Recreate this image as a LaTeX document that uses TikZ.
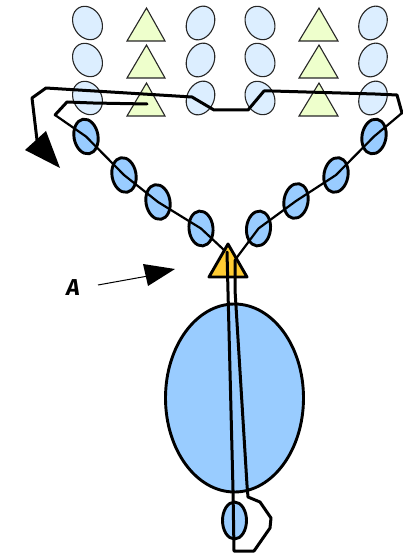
\documentclass[tikz,border=0pt]{standalone}
\usepackage{fontspec}
\setsansfont{Fira Sans}
\usetikzlibrary{shapes.geometric}
\definecolor{pale}{HTML}{DCEEFF}
\definecolor{lime}{HTML}{EEFFCC}
\definecolor{bead}{HTML}{99CCFF}
\definecolor{gold}{HTML}{FFCC33}
\tikzset{
  paleoval/.style={ellipse,draw=black!85,line width=1.1pt,fill=pale,inner sep=0pt,minimum width=28pt,minimum height=35pt},
  paleovalr/.style={ellipse,draw=black!85,line width=1.1pt,fill=pale,inner sep=0pt,minimum width=27pt,minimum height=35pt},
  limetri/.style={draw=black!85,line width=1.1pt,fill=lime,line join=miter},
  beadoval/.style={ellipse,draw=black,line width=2.9pt,fill=bead,inner sep=0pt,minimum width=24pt,minimum height=35pt},
  rope/.style={draw=black,line width=3pt,line join=round,line cap=round},
  thinrope/.style={draw=black,line width=2.2pt,line join=round,line cap=round},
}
\begin{document}
\begin{tikzpicture}[x=1pt,y=-1pt]
\useasboundingbox (0,0) rectangle (402,553);
% pale ovals
\foreach \y/\r in {23/a,60/b,98/c}{
  \node[paleoval,rotate=30] (p1\r) at (87.5,\y) {};
  \node[paleovalr,rotate=-25] (p2\r) at (200.5,\y) {};
  \node[paleoval,rotate=30] (p3\r) at (260,\y) {};
  \node[paleovalr,rotate=-25] (p4\r) at (373,\y) {};
}
% triangles
\foreach \y in {8,45,83}{
  \draw[limetri] (146.5,\y) -- (165,\y+33) -- (127,\y+33) -- cycle;
  \draw[limetri] (319,\y) -- (338,\y+33) -- (299,\y+33) -- cycle;
}
% beads
\node[beadoval,rotate=10] (b1) at (86,136.5) {};
\node[beadoval,rotate=10] (b2) at (124,175) {};
\node[beadoval,rotate=10] (b3) at (158,202) {};
\node[beadoval,rotate=6] (b4) at (201,228.5) {};
\node[beadoval,rotate=-6] (b5) at (258.5,228.5) {};
\node[beadoval,rotate=-10] (b6) at (296,201) {};
\node[beadoval,rotate=-10] (b7) at (336,175) {};
\node[beadoval,rotate=-10] (b8) at (374,136.5) {};
% main bodies
\node[ellipse,draw=black,line width=2.9pt,fill=bead,inner sep=0pt,minimum width=138pt,minimum height=188pt] (big) at (234.5,398) {};
\node[ellipse,draw=black,line width=2.9pt,fill=bead,inner sep=0pt,minimum width=24pt,minimum height=37pt] (small) at (234.5,520.5) {};
\draw[draw=black,line width=2.9pt,fill=gold,line join=round] (228,244) -- (247,277) -- (209,277) -- cycle;
% rope ends
\coordinate (startL) at (147,104);
\coordinate (neckL) at (55,115);
\coordinate (apexL) at (224,250);
\coordinate (innerR) at (235,260);
\coordinate (shoulderR) at (402,113);
\coordinate (loopTop) at (37,140);
% strands
\draw[rope] (startL) -- (93,103) -- (67,102) -- (neckL);
\draw[thinrope] (neckL) -- (b1.center) -- (b2.center) -- (b3.center) -- (b4.center) -- (apexL);
\draw[thinrope] (innerR) -- (b5.center) -- (b6.center) -- (b7.center) -- (b8.center) -- (shoulderR);
\draw[rope] (227,252) -- (233,490) -- (234,551) -- (254,551) -- (270,528) -- (271,518) -- (260,502) -- (248,497) -- (247,485) -- (235,290) -- (innerR);
\draw[rope] (shoulderR) -- (397,95) -- (375,94) -- (272,91) -- (264,91) -- (248,110) -- (214,110) -- (192,97) -- (62,89) -- (46,88) -- (32,98) -- (loopTop);
% arrowheads
\fill[black] (25,150) -- (46,131) -- (60,168) -- cycle;
\node[font=\sffamily\itshape\bfseries,inner sep=0pt] (labA) at (73,288) {\fontsize{23}{23}\selectfont A};
\coordinate (arrowEnd) at (148,276);
\draw[black,line width=1pt] (98,285) -- (arrowEnd);
\fill[black] (143,264) -- (175,269) -- (148,286) -- cycle;
\end{tikzpicture}
\end{document}
